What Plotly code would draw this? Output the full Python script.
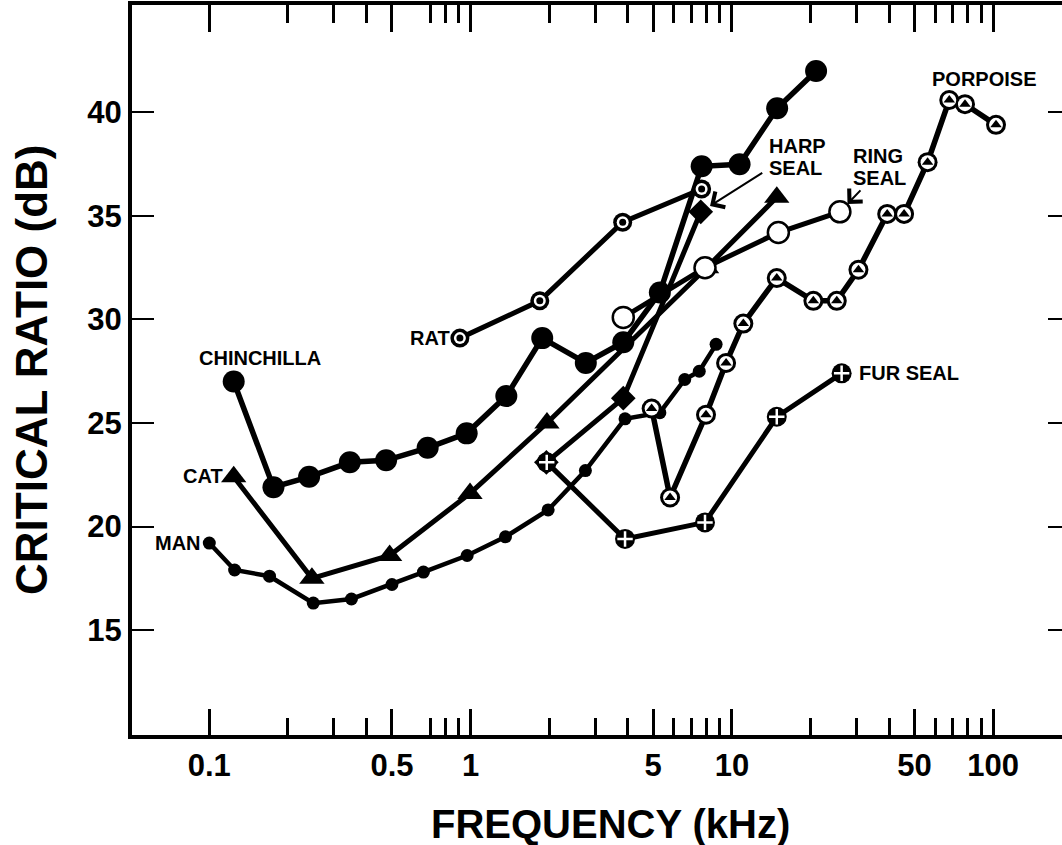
import numpy as np
import plotly.graph_objects as go

# ---- critical ratio data (frequency in kHz, critical ratio in dB) ----
man_khz = [0.1, 0.125, 0.17, 0.25, 0.35, 0.5, 0.66, 0.97, 1.36, 1.98, 2.75, 3.9, 5.3, 6.6, 7.5, 8.7]
man_cr = [19.2, 17.9, 17.6, 16.3, 16.5, 17.2, 17.8, 18.6, 19.5, 20.8, 22.7, 25.2, 25.5, 27.1, 27.5, 28.8]

chin_khz = [0.124, 0.176, 0.241, 0.345, 0.475, 0.685, 0.966, 1.37, 1.88, 2.76, 3.84, 5.3, 7.66, 10.7, 14.9, 21.0]
chin_cr = [27.0, 21.9, 22.4, 23.1, 23.2, 23.8, 24.5, 26.3, 29.1, 27.9, 28.9, 31.3, 37.4, 37.5, 40.2, 42.0]

cat_khz = [0.124, 0.247, 0.49, 0.995, 1.96, 8.0, 14.85]
cat_cr = [22.4, 17.5, 18.6, 21.6, 25.0, 32.5, 35.9]

rat_khz = [0.91, 1.84, 3.82, 7.66]
rat_cr = [29.1, 30.9, 34.7, 36.3]

ring_khz = [3.84, 7.89, 15.06, 25.9]
ring_cr = [30.1, 32.5, 34.2, 35.2]

harp_khz = [1.95, 3.84, 7.6]
harp_cr = [23.1, 26.2, 35.2]

fur_khz = [1.956, 3.9, 7.89, 14.85, 26.3]
fur_cr = [23.1, 19.4, 20.2, 25.3, 27.4]

porp_khz = [4.93, 5.8, 7.96, 9.5, 11.06, 14.85, 20.5, 25.2, 30.5, 39.3, 45.6, 56.1, 67.9, 78.0, 102.5]
porp_cr = [25.7, 21.4, 25.4, 27.9, 29.8, 32.0, 30.9, 30.9, 32.4, 35.1, 35.1, 37.6, 40.6, 40.4, 39.4]

# axis ticks
x_major = [0.1, 0.5, 1, 5, 10, 50, 100]
x_major_text = ["0.1", "0.5", "1", "5", "10", "50", "100"]
x_minor = [0.2, 0.3, 0.4, 0.7, 0.8, 0.9, 2, 3, 4, 6, 7, 8, 9, 20, 30, 40, 60, 70, 80, 90]
y_ticks = [15, 20, 25, 30, 35, 40]

FONT = "Liberation Sans"
INK = "black"

fig = go.Figure()

series = [
    (man_khz, man_cr, 4.5),
    (chin_khz, chin_cr, 5.5),
    (cat_khz, cat_cr, 5),
    (rat_khz, rat_cr, 5),
    (ring_khz, ring_cr, 5),
    (harp_khz, harp_cr, 5),
    (fur_khz, fur_cr, 5),
    (porp_khz, porp_cr, 5.5),
]

# connecting lines first
for xs, ys, w in series:
    fig.add_trace(go.Scatter(x=xs, y=ys, mode="lines",
                             line=dict(color=INK, width=w), hoverinfo="skip"))


def markers(xs, ys, symbol, size, color, line_color=None, line_width=0):
    fig.add_trace(go.Scatter(
        x=xs, y=ys, mode="markers", hoverinfo="skip",
        marker=dict(symbol=symbol, size=size, color=color,
                    line=dict(color=line_color or color, width=line_width))))


# man: small filled dots
markers(man_khz, man_cr, "circle", 13, INK)
# chinchilla: large filled dots
markers(chin_khz, chin_cr, "circle", 22, INK)
# cat: filled triangles
markers(cat_khz, cat_cr, "triangle-up", 22, INK)
# rat: ring with centre dot
markers(rat_khz, rat_cr, "circle", 19, INK)
markers(rat_khz, rat_cr, "circle", 12, "white")
markers(rat_khz, rat_cr, "circle", 7, INK)
# ring seal: open circles
markers(ring_khz, ring_cr, "circle", 21, "white", INK, 2.5)
# harp seal: filled diamonds
markers(harp_khz, harp_cr, "diamond", 19, INK)
# fur seal: black disc with white cross
markers(fur_khz, fur_cr, "circle", 20, INK)
markers(fur_khz, fur_cr, "cross-thin", 11, INK, "white", 2.5)
# porpoise: ringed disc with triangle
markers(porp_khz, porp_cr, "circle", 20, INK)
markers(porp_khz, porp_cr, "circle", 14, "white")
markers(porp_khz, porp_cr, "triangle-up", 10, INK)

# empty traces so the overlaid tick axes are drawn
for xa, ya in [("x2", "y"), ("x3", "y"), ("x4", "y"), ("x", "y2")]:
    fig.add_trace(go.Scatter(x=[None], y=[None], xaxis=xa, yaxis=ya, hoverinfo="skip"))

lab_font = dict(family=FONT, size=20, color=INK, weight="bold")


def label(text, xs, ys, i, xanchor, dx, dy):
    fig.add_annotation(x=np.log10(xs[i]), y=ys[i], text=text, showarrow=False,
                       xanchor=xanchor, yanchor="middle", xshift=dx, yshift=dy,
                       font=lab_font)


label("MAN", man_khz, man_cr, 0, "right", -6, 0)
label("CAT", cat_khz, cat_cr, 0, "right", -9, 1)
label("CHINCHILLA", chin_khz, chin_cr, 0, "center", 26, 24)
label("RAT", rat_khz, rat_cr, 0, "right", -8, 0)
label("FUR SEAL", fur_khz, fur_cr, -1, "left", 15, 0)
label("PORPOISE", porp_khz, porp_cr, -2, "center", 19, 25)
label("HARP", harp_khz, harp_cr, -1, "left", 66, 66)
label("SEAL", harp_khz, harp_cr, -1, "left", 66, 44)
label("RING", ring_khz, ring_cr, -1, "left", 11, 56)
label("SEAL", ring_khz, ring_cr, -1, "left", 11, 34)

# pointer arrows for the seal labels
for xs, ys, ax, ay in [(harp_khz, harp_cr, 63, -40), (ring_khz, ring_cr, 22, -23)]:
    fig.add_annotation(x=np.log10(xs[-1]), y=ys[-1], ax=ax, ay=ay, text="",
                       showarrow=True, arrowhead=4, arrowsize=1.8, arrowwidth=2,
                       arrowcolor=INK, standoff=11)

# axis titles
fig.add_annotation(xref="paper", yref="paper", x=0.515, y=0, yshift=-89,
                   text="FREQUENCY (kHz)", showarrow=False, xanchor="center",
                   yanchor="middle", font=dict(family=FONT, size=40, color=INK, weight="bold"))
fig.add_annotation(xref="paper", yref="paper", x=0, xshift=-101, y=0.50,
                   text="CRITICAL RATIO (dB)", showarrow=False, textangle=-90,
                   xanchor="center", yanchor="middle",
                   font=dict(family=FONT, size=44, color=INK, weight="bold"))

x_range = [-1.2958, 2.2633]
y_range = [9.93, 45.19]
tick_font = dict(family=FONT, size=31, color=INK, weight="bold")


def tick_axis(side, vals, length, line):
    return dict(type="log", range=x_range, showgrid=False, zeroline=False,
                overlaying="x", anchor="y", side=side,
                showline=line, linecolor=INK, linewidth=3.5,
                ticks="inside", ticklen=length, tickwidth=2.5, tickcolor=INK,
                tickmode="array", tickvals=vals, showticklabels=False)


fig.update_layout(
    width=1062, height=845,
    margin=dict(l=132, r=0, t=5, b=110),
    paper_bgcolor="white", plot_bgcolor="white",
    showlegend=False,
    xaxis=dict(type="log", range=x_range, showgrid=False, zeroline=False,
               showline=True, linecolor=INK, linewidth=3.5, mirror=False,
               ticks="inside", ticklen=26, tickwidth=2.5, tickcolor=INK,
               tickmode="array", tickvals=x_major, ticktext=x_major_text,
               tickfont=tick_font),
    xaxis2=tick_axis("bottom", x_minor, 17, False),
    xaxis3=tick_axis("top", x_major, 27, True),
    xaxis4=tick_axis("top", x_minor, 18, False),
    yaxis=dict(range=y_range, showgrid=False, zeroline=False,
               showline=True, linecolor=INK, linewidth=4, mirror=False,
               ticks="inside", ticklen=22, tickwidth=2, tickcolor=INK,
               tickmode="array", tickvals=y_ticks, tickfont=tick_font),
    yaxis2=dict(range=y_range, overlaying="y", side="right", anchor="x",
                showgrid=False, zeroline=False, showline=False,
                ticks="inside", ticklen=14, tickwidth=2, tickcolor=INK,
                tickmode="array", tickvals=y_ticks, showticklabels=False),
)

fig.write_html("out.html", config={"displayModeBar": False})
